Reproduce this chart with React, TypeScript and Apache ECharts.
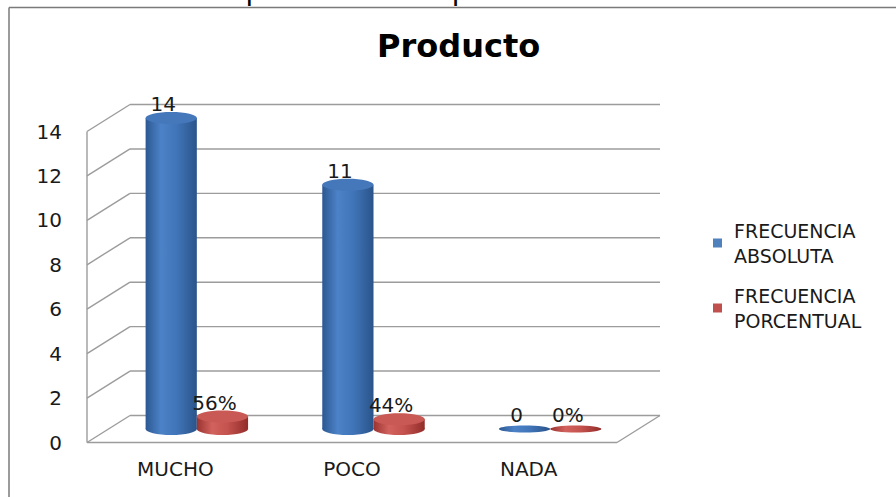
import React, { useEffect, useRef } from "react";
import * as echarts from "echarts";

const CATEGORIES = ["MUCHO", "POCO", "NADA"];
const ABSOLUTA = [14, 11, 0];
const ABSOLUTA_LABELS = ["14", "11", "0"];
const PORCENTUAL = [0.56, 0.44, 0];
const PORCENTUAL_LABELS = ["56%", "44%", "0%"];
const Y_TICKS = [0, 2, 4, 6, 8, 10, 12, 14];
const SERIES_NAMES = ["FRECUENCIA ABSOLUTA", "FRECUENCIA PORCENTUAL"];
const LEGEND_LABELS = ["FRECUENCIA\nABSOLUTA", "FRECUENCIA\nPORCENTUAL"];
const TITLE = "Producto";
const CAPTION = "Gráfico N° 11: Expectativas del producto";

const FONT = '"DejaVu Sans", sans-serif';
const DX = 43;
const DY = -27;
const GRID_COLOR = "#9c9c9c";

const BLUE_BODY = [
  { offset: 0, color: "#2c5892" },
  { offset: 0.3, color: "#4c82c7" },
  { offset: 0.6, color: "#4175b9" },
  { offset: 1, color: "#2a548a" },
];
const RED_BODY = [
  { offset: 0, color: "#9a3330" },
  { offset: 0.3, color: "#d2625d" },
  { offset: 0.6, color: "#c4524e" },
  { offset: 1, color: "#922d2a" },
];

function wallRender(params: any, api: any) {
  const cs = params.coordSys;
  const L = cs.x;
  const R = cs.x + cs.width;
  const v = api.value(1);
  const y = api.coord([0, v])[1];
  const style = { stroke: GRID_COLOR, lineWidth: 1.4 };
  const children: any[] = [
    { type: "line", shape: { x1: L, y1: y, x2: L + DX, y2: y + DY }, style },
    { type: "line", shape: { x1: L + DX, y1: y + DY, x2: R + DX, y2: y + DY }, style },
  ];
  if (v === 0) {
    children.push(
      { type: "line", shape: { x1: L, y1: y, x2: R, y2: y }, style },
      { type: "line", shape: { x1: R, y1: y, x2: R + DX, y2: y + DY }, style },
      { type: "line", shape: { x1: L, y1: y, x2: L, y2: cs.y }, style }
    );
  }
  return { type: "group", children };
}

function cylinderRender(side: number, body: any[], topColor: string, labels: string[]) {
  return (params: any, api: any) => {
    const cat = api.value(0);
    const val = api.value(1);
    const top = api.coord([cat, val]);
    const base = api.coord([cat, 0]);
    const band = api.size([1, 0])[0];
    const rx = band * 0.145;
    const cx = top[0] + DX / 2 + side * rx;
    const ty = top[1] + DY / 2;
    const by = base[1] + DY / 2;
    const grad = { type: "linear", x: 0, y: 0, x2: 1, y2: 0, colorStops: body };
    const children: any[] = [];
    if (val > 0) {
      const ry = 6;
      children.push(
        { type: "ellipse", shape: { cx, cy: by, rx, ry }, style: { fill: grad } },
        { type: "rect", shape: { x: cx - rx, y: ty, width: rx * 2, height: by - ty }, style: { fill: grad } },
        { type: "ellipse", shape: { cx, cy: ty, rx, ry }, style: { fill: topColor } }
      );
    } else {
      children.push({ type: "ellipse", shape: { cx, cy: by, rx, ry: 3.5 }, style: { fill: grad } });
    }
    children.push({
      type: "text",
      style: {
        text: labels[params.dataIndex],
        x: cx - 8,
        y: ty - 14,
        align: "center",
        verticalAlign: "middle",
        font: `20px ${FONT}`,
        fill: "#1a1a1a",
      },
    });
    return { type: "group", children };
  };
}

function legendAt(name: string, label: string, top: number) {
  return {
    data: [name],
    left: 713,
    top,
    padding: 0,
    orient: "vertical",
    icon: "rect",
    itemWidth: 9,
    itemHeight: 9,
    selectedMode: false,
    formatter: () => label,
    textStyle: {
      fontFamily: FONT,
      fontSize: 19,
      color: "#1a1a1a",
      lineHeight: 25,
      padding: [25, 0, 0, 7],
    },
  };
}

export default function App() {
  const ref = useRef<HTMLDivElement>(null);
  useEffect(() => {
    if (!ref.current) return;
    const chart = echarts.init(ref.current, null, { renderer: "svg" });
    chart.setOption({
      animation: false,
      backgroundColor: "#ffffff",
      title: {
        text: TITLE,
        left: 372,
        top: 25,
        textStyle: { fontFamily: FONT, fontWeight: "bold", fontSize: 32, color: "#000" },
      },
      grid: { left: 87, top: 131.5, width: 530, height: 311 },
      xAxis: {
        type: "category",
        data: CATEGORIES,
        axisLine: { show: false },
        axisTick: { show: false },
        splitLine: { show: false },
        axisLabel: { margin: 16, fontFamily: FONT, fontSize: 20, color: "#1a1a1a" },
      },
      yAxis: {
        type: "value",
        min: 0,
        max: 14,
        interval: 2,
        axisLine: { show: false },
        axisTick: { show: false },
        splitLine: { show: false },
        axisLabel: { margin: 25, fontFamily: FONT, fontSize: 20, color: "#1a1a1a" },
      },
      legend: [
        legendAt(SERIES_NAMES[0], LEGEND_LABELS[0], 205.5),
        legendAt(SERIES_NAMES[1], LEGEND_LABELS[1], 270.5),
      ],
      series: [
        {
          type: "custom",
          name: "walls",
          silent: true,
          clip: false,
          data: Y_TICKS.map((v) => [0, v]),
          encode: { x: 0, y: 1 },
          renderItem: wallRender,
          z: 1,
        },
        {
          type: "custom",
          name: SERIES_NAMES[0],
          clip: false,
          itemStyle: { color: "#4f81bd" },
          data: ABSOLUTA.map((v, i) => [i, v]),
          encode: { x: 0, y: 1 },
          renderItem: cylinderRender(-1, BLUE_BODY, "#4577bb", ABSOLUTA_LABELS),
          z: 2,
        },
        {
          type: "custom",
          name: SERIES_NAMES[1],
          clip: false,
          itemStyle: { color: "#c0504d" },
          data: PORCENTUAL.map((v, i) => [i, v]),
          encode: { x: 0, y: 1 },
          renderItem: cylinderRender(1, RED_BODY, "#c95955", PORCENTUAL_LABELS),
          z: 2,
        },
      ],
      graphic: [
        {
          type: "line",
          shape: { x1: 9, y1: 7.5, x2: 896, y2: 7.5 },
          style: { stroke: "#7a7a7a", lineWidth: 1.5 },
        },
        {
          type: "line",
          shape: { x1: 9, y1: 7.5, x2: 9, y2: 497 },
          style: { stroke: "#7a7a7a", lineWidth: 1.5 },
        },
        {
          type: "text",
          x: 4,
          y: 4.3,
          style: { text: CAPTION, font: `28px ${FONT}`, fill: "#000", verticalAlign: "bottom" },
        },
      ],
    });
    return () => chart.dispose();
  }, []);
  return (
    <div
      ref={ref}
      style={{ position: "fixed", left: 0, top: 0, width: 896, height: 497 }}
    />
  );
}
